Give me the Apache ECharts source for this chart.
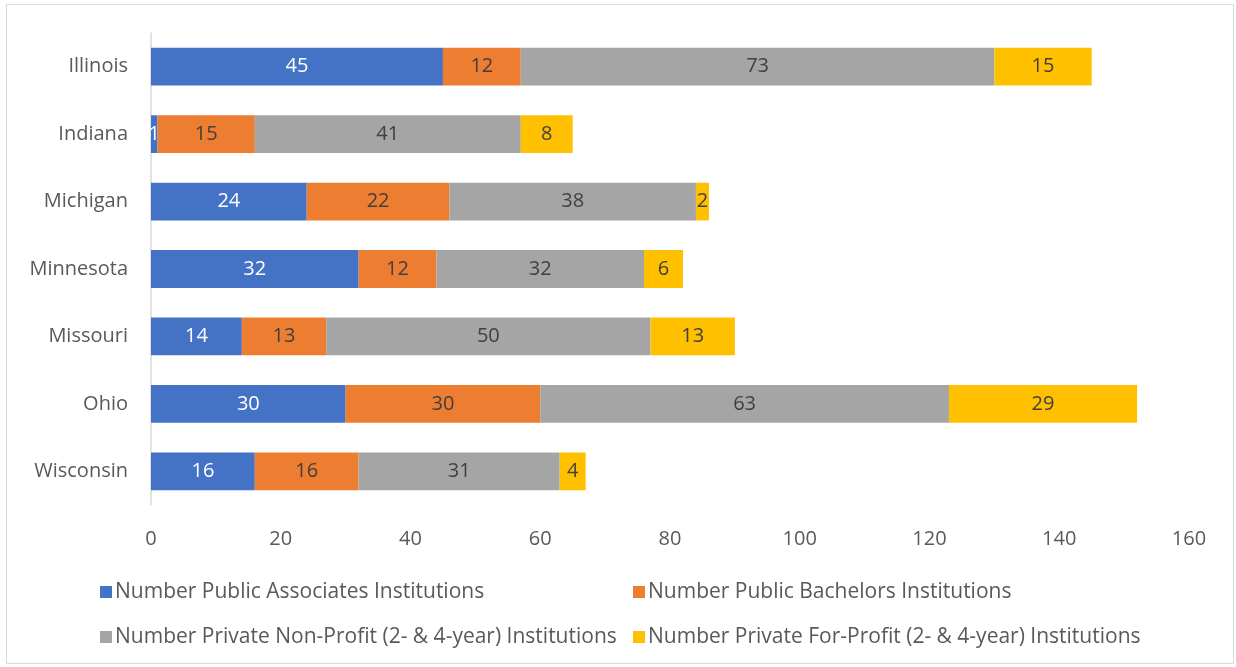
<!DOCTYPE html>
<html>
<head>
<meta charset="utf-8">
<script src="https://cdn.jsdelivr.net/npm/echarts@6/dist/echarts.min.js"></script>
<style>
html,body{margin:0;padding:0;background:#fff;}
#chart{width:1236px;height:667px;}
</style>
</head>
<body>
<div id="chart"></div>
<script>
var categories = ['Illinois','Indiana','Michigan','Minnesota','Missouri','Ohio','Wisconsin'];
var seriesNames = [
  'Number Public Associates Institutions',
  'Number Public Bachelors Institutions',
  'Number Private Non-Profit (2- & 4-year) Institutions',
  'Number Private For-Profit (2- & 4-year) Institutions'
];
var publicAssociates = [45, 1, 24, 32, 14, 30, 16];
var publicBachelors = [12, 15, 22, 12, 13, 30, 16];
var privateNonProfit = [73, 41, 38, 32, 50, 63, 31];
var privateForProfit = [15, 8, 2, 6, 13, 29, 4];
var xTicks = [0, 20, 40, 60, 80, 100, 120, 140, 160];

var colors = ['#4472C4', '#ED7D31', '#A5A5A5', '#FFC000'];
var labelColors = ['#ffffff', '#404040', '#404040', '#404040'];
var values = [publicAssociates, publicBachelors, privateNonProfit, privateForProfit];
var FONT = '"Open Sans", "Noto Sans", sans-serif';

var series = values.map(function (v, i) {
  return {
    name: seriesNames[i],
    type: 'bar',
    stack: 'total',
    barCategoryGap: '44%',
    data: v,
    itemStyle: { color: colors[i] },
    label: {
      show: true,
      position: 'inside',
      color: labelColors[i],
      fontSize: 20,
      fontFamily: FONT,
      padding: [3, 0, 0, 0]
    },
    emphasis: { disabled: true }
  };
});

var legendCommon = {
  orient: 'vertical',
  top: 575,
  itemWidth: 12,
  itemHeight: 12,
  itemGap: 21,
  icon: 'rect',
  selectedMode: false,
  textStyle: { color: '#595959', fontSize: 21, fontFamily: FONT, lineHeight: 24, padding: [0, 0, 0, -2] }
};

var chart = echarts.init(document.getElementById('chart'));
chart.setOption({
  animation: false,
  color: colors,
  graphic: [{
    type: 'rect',
    shape: { x: 6.5, y: 4.5, width: 1227, height: 659 },
    style: { fill: 'none', stroke: '#d9d9d9', lineWidth: 1 },
    silent: true
  }],
  grid: { left: 151, right: 47, top: 33, bottom: 162, containLabel: false },
  xAxis: {
    type: 'value',
    min: xTicks[0],
    max: xTicks[xTicks.length - 1],
    interval: 20,
    axisLine: { show: false },
    axisTick: { show: false },
    splitLine: { show: false },
    axisLabel: { color: '#595959', fontSize: 20, fontFamily: FONT, margin: 24 }
  },
  yAxis: {
    type: 'category',
    data: categories,
    inverse: true,
    axisLine: { show: true, lineStyle: { color: '#d9d9d9', width: 1.5 } },
    axisTick: { show: false },
    axisLabel: { color: '#595959', fontSize: 20, fontFamily: FONT, margin: 23, padding: [3, 0, 0, 0] }
  },
  legend: [
    Object.assign({}, legendCommon, { data: [seriesNames[0], seriesNames[2]], left: 95 }),
    Object.assign({}, legendCommon, { data: [seriesNames[1], seriesNames[3]], left: 628 })
  ],
  series: series
});
</script>
</body>
</html>
